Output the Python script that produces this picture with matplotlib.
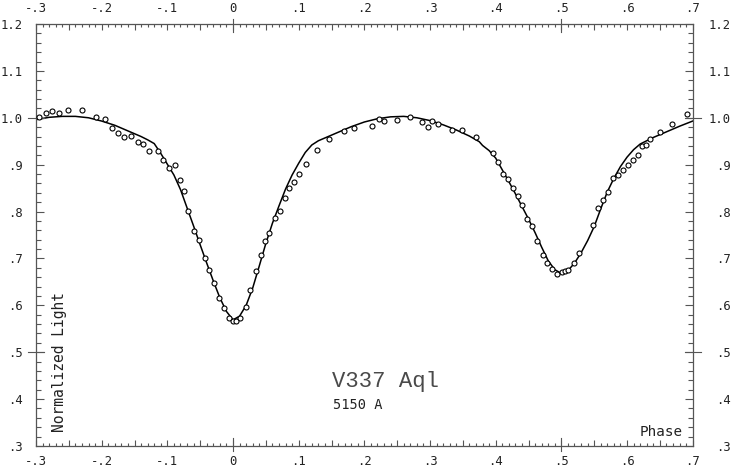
import matplotlib
matplotlib.use("Agg")
import matplotlib.pyplot as plt
import matplotlib.transforms as mtransforms
from matplotlib.ticker import FixedLocator, FixedFormatter, MultipleLocator

# model light curve (phase, normalized light)
curve_phase = [-0.30, -0.28, -0.26, -0.24, -0.22, -0.20, -0.18, -0.16, -0.14, -0.13,
               -0.12, -0.11, -0.10, -0.09, -0.08, -0.07, -0.06, -0.05, -0.04, -0.03,
               -0.02, -0.01, 0.00, 0.01, 0.02, 0.03, 0.04, 0.05, 0.06, 0.07,
               0.08, 0.09, 0.10, 0.11, 0.12, 0.13, 0.14, 0.16, 0.18, 0.20,
               0.22, 0.24, 0.26, 0.28, 0.30, 0.32, 0.34, 0.36, 0.375, 0.38,
               0.39, 0.40, 0.41, 0.42, 0.43, 0.44, 0.45, 0.46, 0.47, 0.48,
               0.49, 0.50, 0.51, 0.52, 0.53, 0.54, 0.55, 0.56, 0.57, 0.58,
               0.59, 0.60, 0.61, 0.62, 0.63, 0.64, 0.66, 0.68, 0.70]
curve_light = [0.996, 1.001, 1.003, 1.003, 1.000, 0.993, 0.984, 0.972, 0.960, 0.953,
               0.945, 0.924, 0.901, 0.878, 0.847, 0.808, 0.769, 0.729, 0.690, 0.652,
               0.616, 0.587, 0.569, 0.577, 0.600, 0.637, 0.684, 0.732, 0.775, 0.812,
               0.848, 0.878, 0.903, 0.926, 0.942, 0.951, 0.957, 0.969, 0.981, 0.991,
               0.998, 1.002, 1.003, 1.000, 0.994, 0.985, 0.974, 0.961, 0.949, 0.941,
               0.930, 0.914, 0.889, 0.864, 0.838, 0.811, 0.784, 0.755, 0.724, 0.695,
               0.676, 0.668, 0.674, 0.690, 0.712, 0.738, 0.768, 0.806, 0.842, 0.871,
               0.896, 0.916, 0.932, 0.944, 0.951, 0.958, 0.970, 0.982, 0.993]

# observed points
obs_phase = [-0.2947, -0.2845, -0.2761, -0.2650, -0.2508, -0.2295, -0.2091, -0.1954,
             -0.1838, -0.1751, -0.1660, -0.1553, -0.1442, -0.1366, -0.1284, -0.1147,
             -0.1061, -0.0970, -0.0888, -0.0807, -0.0745, -0.0680, -0.0589, -0.0518,
             -0.0426, -0.0366, -0.0290, -0.0213, -0.0137, -0.0056, -0.0005, 0.0046,
             0.0106, 0.0198, 0.0259, 0.0345, 0.0431, 0.0487, 0.0553, 0.0640,
             0.0716, 0.0792, 0.0853, 0.0934, 0.1010, 0.1111, 0.1284, 0.1467,
             0.1695, 0.1847, 0.2117, 0.2228, 0.2304, 0.2493, 0.2700, 0.2878,
             0.2974, 0.3030, 0.3117, 0.3330, 0.3482, 0.3696, 0.3954, 0.4040,
             0.4117, 0.4193, 0.4260, 0.4335, 0.4406, 0.4482, 0.4548, 0.4636,
             0.4716, 0.4788, 0.4860, 0.4940, 0.5006, 0.5057, 0.5108, 0.5190,
             0.5268, 0.5487, 0.5563, 0.5637, 0.5715, 0.5791, 0.5865, 0.5934,
             0.6012, 0.6086, 0.6165, 0.6225, 0.6294, 0.6357, 0.6502, 0.6683, 0.6911]
obs_light = [1.001, 1.011, 1.015, 1.010, 1.017, 1.017, 1.001, 0.997,
             0.978, 0.968, 0.958, 0.961, 0.949, 0.944, 0.929, 0.930,
             0.911, 0.892, 0.899, 0.867, 0.844, 0.801, 0.759, 0.739,
             0.700, 0.675, 0.648, 0.615, 0.595, 0.573, 0.567, 0.567,
             0.572, 0.596, 0.633, 0.674, 0.707, 0.737, 0.755, 0.787,
             0.802, 0.828, 0.850, 0.864, 0.880, 0.901, 0.931, 0.955,
             0.971, 0.978, 0.983, 0.997, 0.994, 0.995, 1.001, 0.992,
             0.981, 0.993, 0.986, 0.974, 0.974, 0.960, 0.925, 0.906,
             0.881, 0.869, 0.850, 0.834, 0.815, 0.785, 0.769, 0.738,
             0.708, 0.690, 0.678, 0.667, 0.671, 0.674, 0.676, 0.690,
             0.712, 0.771, 0.807, 0.825, 0.842, 0.871, 0.879, 0.889,
             0.900, 0.910, 0.920, 0.940, 0.942, 0.955, 0.970, 0.987, 1.009]

x_ticks = [-0.3, -0.25, -0.2, -0.15, -0.1, -0.05, 0.0, 0.05, 0.1, 0.15, 0.2,
           0.25, 0.3, 0.35, 0.4, 0.45, 0.5, 0.55, 0.6, 0.65, 0.7]
x_labels = ["-.3", "", "-.2", "", "-.1", "", "0", "", ".1", "", ".2",
            "", ".3", "", ".4", "", ".5", "", ".6", "", ".7"]
y_ticks = [0.3, 0.4, 0.5, 0.6, 0.7, 0.8, 0.9, 1.0, 1.1, 1.2]
y_labels = [".3", ".4", ".5", ".6", ".7", ".8", ".9", "1.0", "1.1", "1.2"]

ink = "#222222"
axis_gray = "#555555"
mono = "DejaVu Sans Mono"

plt.rcParams["axes.unicode_minus"] = False

fig = plt.figure(figsize=(7.32, 4.70), dpi=100)
ax = fig.add_axes([36 / 732, 24 / 470, 656.7 / 732, 422 / 470])

ax.plot(curve_phase, curve_light, color="black", lw=1.1, zorder=2)
ax.plot(obs_phase, obs_light, ls="none", marker="o", ms=3.6, mfc="white",
        mec="black", mew=0.8, zorder=3)

ax.set_xlim(-0.3, 0.7)
ax.set_ylim(0.3, 1.2)

ax.xaxis.set_major_locator(FixedLocator(x_ticks))
ax.xaxis.set_major_formatter(FixedFormatter(x_labels))
ax.xaxis.set_minor_locator(MultipleLocator(0.01))
ax.yaxis.set_major_locator(FixedLocator(y_ticks))
ax.yaxis.set_major_formatter(FixedFormatter(y_labels))
ax.yaxis.set_minor_locator(MultipleLocator(0.02))

ax.tick_params(axis="both", which="both", direction="in", top=True, right=True,
               labeltop=True, labelright=True, color=axis_gray, width=0.8,
               labelcolor=ink, labelsize=8.8)
ax.tick_params(axis="x", which="major", length=4.0, pad=6.5)
ax.tick_params(axis="x", which="minor", length=2.2)
ax.tick_params(axis="y", which="major", length=5.5, pad=9.5)
ax.tick_params(axis="y", which="minor", length=3.8)

for t in ax.xaxis.get_major_ticks():
    t.label1.set_fontfamily(mono)
    t.label2.set_fontfamily(mono)
# right-hand labels are right aligned at the picture edge
shift = mtransforms.ScaledTranslation(38.3 / 100, 0, fig.dpi_scale_trans)
for t in ax.yaxis.get_major_ticks():
    t.label1.set_fontfamily(mono)
    t.label2.set_fontfamily(mono)
    t.label2.set_horizontalalignment("right")
    t.label2.set_transform(ax.get_yaxis_transform(which="tick2") + shift)

for sp in ax.spines.values():
    sp.set_color(axis_gray)
    sp.set_linewidth(0.9)

# longer ticks crossing the frame at phase 0, .5 and light .5, 1.0
cross_x = [0.0, 0.5]
cross_y = [0.5, 1.0]
for xv in cross_x:
    for y0, y1 in [(-0.012, 0.02), (0.98, 1.012)]:
        ax.plot([xv, xv], [y0, y1], transform=ax.get_xaxis_transform(),
                color=axis_gray, lw=0.8, clip_on=False)
for yv in cross_y:
    for x0, x1 in [(-0.012, 0.012), (0.988, 1.012)]:
        ax.plot([x0, x1], [yv, yv], transform=ax.get_yaxis_transform(),
                color=axis_gray, lw=0.8, clip_on=False)

ax.text(0.0365, 0.033, "Normalized Light", transform=ax.transAxes, rotation=90,
        ha="center", va="bottom", fontsize=10.5, family=mono, color=ink)
ax.text(0.985, 0.033, "Phase", transform=ax.transAxes, ha="right", va="center",
        fontsize=10.3, family=mono, color=ink)
ax.text(0.450, 0.152, "V337 Aql", transform=ax.transAxes, ha="left",
        va="center", fontsize=16, family="Liberation Mono", color="#4a4a4a")
ax.text(0.452, 0.097, "5150 A", transform=ax.transAxes, ha="left",
        va="center", fontsize=9.8, family=mono, color=ink)

fig.savefig("out.png", dpi=100)
